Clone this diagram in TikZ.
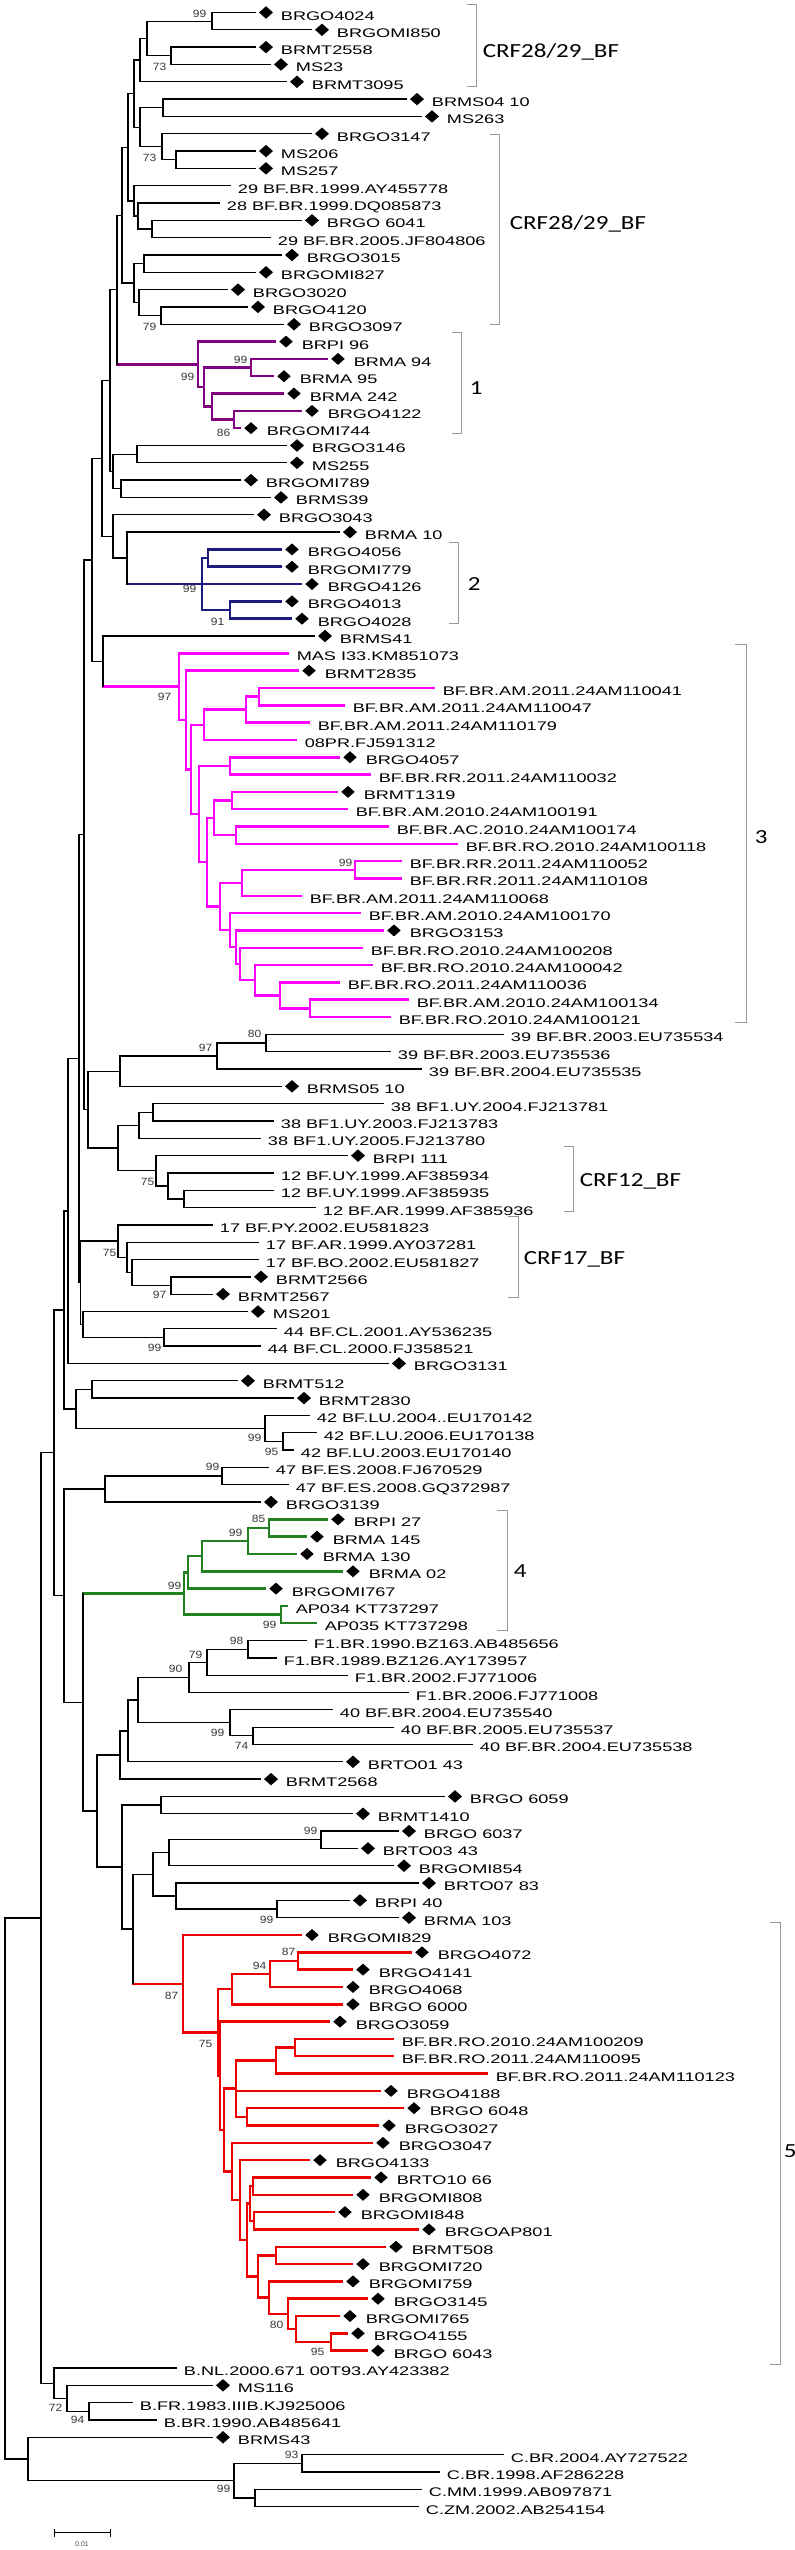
\documentclass[tikz,border=0pt]{standalone}
\usepackage{fontspec}
\setmainfont{Liberation Sans}
\newfontfamily\cladefont{Carlito}
\usepackage{xcolor}
\usepackage{tikz}
\usetikzlibrary{shapes.geometric}

\definecolor{cladeone}{RGB}{128,0,128}
\definecolor{cladetwo}{RGB}{28,28,128}
\definecolor{cladethree}{RGB}{255,0,255}
\definecolor{cladefour}{RGB}{34,130,34}
\definecolor{cladefive}{RGB}{238,0,0}

% tip with a diamond: name, parent x, tip x, row, label
\newcommand{\seqd}[5]{%
  \draw (#2,#4) -- (#3,#4);
  \node[gem] (#1) at ([xshift=11pt]#3,#4) {};
  \node[taxon] (#1t) at ([xshift=25pt,yshift=-7.5pt]#3,#4) {#5};}
% reference tip, no diamond
\newcommand{\seqr}[5]{%
  \draw (#2,#4) -- (#3,#4);
  \node[taxon] (#1) at ([xshift=7pt,yshift=-7.5pt]#3,#4) {#5};}
% inner node: parent x, node x, first row, last row
\newcommand{\knot}[4]{%
  \draw (#2,#3) -- (#2,#4) (#1,{(#3+#4)/2}) -- (#2,{(#3+#4)/2});}
\newcommand{\bs}[4]{\node[boot] (#1) at (#2,#3) {#4};}

\begin{document}
\begin{tikzpicture}[x=1pt, y=-17.32pt, line width=1.3pt, line cap=rect,
    gem/.style={diamond, fill=black, draw=none, inner sep=0pt, minimum width=14.5pt, minimum height=13pt},
    taxon/.style={anchor=base west, inner sep=0pt, text=black, font=\fontsize{12.5}{14}\selectfont, xscale=1.45},
    boot/.style={anchor=east, inner sep=0pt, text=black!78, font=\fontsize{10.5}{10.5}\selectfont, xscale=1.15},
    group/.style={draw=black!40, line width=1pt, line cap=butt},
    grouplabel/.style={anchor=west, inner sep=0pt, text=black, font=\cladefont\fontsize{20}{20}\selectfont, xscale=1.25},
    clade/.style={line width=2.5pt}]

\fill[white] (0,0.278) rectangle (795,147.51);
\useasboundingbox (0,0.278) rectangle (795,147.51);

% CRF28/29_BF
\seqd{l1}{212}{255}{1}{BRGO4024}
\seqd{l2}{212}{311}{2}{BRGOMI850}
\seqd{l3}{171}{255}{3}{BRMT2558}
\seqd{l4}{171}{270}{4}{MS23}
\seqd{l5}{140}{286}{5}{BRMT3095}
\seqd{l6}{163}{406}{6}{BRMS04 10}
\seqd{l7}{163}{421}{7}{MS263}
\seqd{l8}{162}{311}{8}{BRGO3147}
\seqd{l9}{176}{255}{9}{MS206}
\seqd{l10}{176}{255}{10}{MS257}
\seqr{l11}{134}{230}{11}{29 BF.BR.1999.AY455778}
\seqr{l12}{138}{219}{12}{28 BF.BR.1999.DQ085873}
\seqd{l13}{152}{301}{13}{BRGO 6041}
\seqr{l14}{152}{270}{14}{29 BF.BR.2005.JF804806}
\seqd{l15}{144}{281}{15}{BRGO3015}
\seqd{l16}{144}{255}{16}{BRGOMI827}
\seqd{l17}{139}{227}{17}{BRGO3020}
\seqd{l18}{161}{247}{18}{BRGO4120}
\seqd{l19}{161}{283}{19}{BRGO3097}
\knot{147}{212}{1}{2}
\knot{147}{171}{3}{4}
\knot{140}{147}{1.5}{3.5}
\knot{134}{140}{2.5}{5}
\knot{140}{163}{6}{7}
\knot{162}{176}{9}{10}
\knot{140}{162}{8}{9.5}
\knot{134}{140}{6.5}{8.75}
\knot{128}{134}{3.75}{7.625}
\knot{138}{152}{13}{14}
\knot{134}{138}{12}{13.5}
\knot{128}{134}{11}{12.75}
\knot{122}{128}{5.6875}{11.875}
\knot{134}{144}{15}{16}
\knot{139}{161}{18}{19}
\knot{134}{139}{17}{18.5}
\knot{122}{134}{15.5}{17.75}
\knot{117}{122}{8.78125}{16.625}

% group 1
\begin{scope}[cladeone, clade]
\seqd{l20}{198}{275}{20}{BRPI 96}
\seqd{l21}{251}{327}{21}{BRMA 94}
\seqd{l22}{251}{273}{22}{BRMA 95}
\seqd{l23}{212}{283}{23}{BRMA 242}
\seqd{l24}{234}{301}{24}{BRGO4122}
\seqd{l25}{234}{240}{25}{BRGOMI744}
\knot{204}{251}{21}{22}
\knot{212}{234}{24}{25}
\knot{204}{212}{23}{24.5}
\knot{198}{204}{21.5}{23.75}
\knot{117}{198}{20}{22.625}
\end{scope}
\knot{110}{117}{12.703}{21.3125}

\seqd{l26}{137}{286}{26}{BRGO3146}
\seqd{l27}{137}{286}{27}{MS255}
\seqd{l28}{121}{240}{28}{BRGOMI789}
\seqd{l29}{121}{270}{29}{BRMS39}
\seqd{l30}{113}{253}{30}{BRGO3043}
\seqd{l31}{127}{339}{31}{BRMA 10}
\knot{113}{137}{26}{27}
\knot{113}{121}{28}{29}
\knot{110}{113}{26.5}{28.5}
\knot{102}{110}{17.008}{27.5}

% group 2
\begin{scope}[cladetwo, clade]
\seqd{l32}{208}{281}{32}{BRGO4056}
\seqd{l33}{208}{281}{33}{BRGOMI779}
\seqd{l34}{202}{301}{34}{BRGO4126}
\seqd{l35}{230}{281}{35}{BRGO4013}
\seqd{l36}{230}{291}{36}{BRGO4028}
\knot{202}{208}{32}{33}
\knot{202}{230}{35}{36}
\knot{127}{202}{32.5}{35.5}
\end{scope}
\knot{113}{127}{31}{34}
\knot{102}{113}{30}{32.5}
\knot{92}{102}{22.254}{31.25}
\seqd{l37}{103}{314}{37}{BRMS41}

% group 3
\begin{scope}[cladethree, clade]
\seqr{l38}{179}{288}{38}{MAS I33.KM851073}
\seqd{l39}{186}{298}{39}{BRMT2835}
\seqr{l40}{259}{434}{40}{BF.BR.AM.2011.24AM110041}
\seqr{l41}{259}{344}{41}{BF.BR.AM.2011.24AM110047}
\seqr{l42}{246}{309}{42}{BF.BR.AM.2011.24AM110179}
\seqr{l43}{204}{296}{43}{08PR.FJ591312}
\seqd{l44}{230}{339}{44}{BRGO4057}
\seqr{l45}{230}{370}{45}{BF.BR.RR.2011.24AM110032}
\seqd{l46}{232}{337}{46}{BRMT1319}
\seqr{l47}{232}{347}{47}{BF.BR.AM.2010.24AM100191}
\seqr{l48}{236}{388}{48}{BF.BR.AC.2010.24AM100174}
\seqr{l49}{236}{457}{49}{BF.BR.RO.2010.24AM100118}
\seqr{l50}{355}{401}{50}{BF.BR.RR.2011.24AM110052}
\seqr{l51}{355}{401}{51}{BF.BR.RR.2011.24AM110108}
\seqr{l52}{242}{301}{52}{BF.BR.AM.2011.24AM110068}
\seqr{l53}{230}{360}{53}{BF.BR.AM.2010.24AM100170}
\seqd{l54}{236}{383}{54}{BRGO3153}
\seqr{l55}{240}{362}{55}{BF.BR.RO.2010.24AM100208}
\seqr{l56}{255}{372}{56}{BF.BR.RO.2010.24AM100042}
\seqr{l57}{280}{339}{57}{BF.BR.RO.2011.24AM110036}
\seqr{l58}{310}{408}{58}{BF.BR.AM.2010.24AM100134}
\seqr{l59}{310}{390}{59}{BF.BR.RO.2010.24AM100121}
\knot{246}{259}{40}{41}
\knot{204}{246}{40.5}{42}
\knot{191}{204}{41.25}{43}
\knot{199}{230}{44}{45}
\knot{214}{232}{46}{47}
\knot{214}{236}{48}{49}
\knot{207}{214}{46.5}{48.5}
\knot{242}{355}{50}{51}
\knot{220}{242}{50.5}{52}
\knot{280}{310}{58}{59}
\knot{255}{280}{57}{58.5}
\knot{240}{255}{56}{57.75}
\knot{236}{240}{55}{56.875}
\knot{230}{236}{54}{55.9375}
\knot{220}{230}{53}{54.969}
\knot{207}{220}{51.25}{53.984}
\knot{199}{207}{47.5}{52.617}
\knot{191}{199}{44.5}{50.059}
\knot{186}{191}{42.125}{47.279}
\knot{179}{186}{39}{44.702}
\knot{103}{179}{38}{41.851}
\end{scope}
\knot{92}{103}{37}{39.926}
\knot{84}{92}{26.752}{38.463}

\seqr{l60}{266}{503}{60}{39 BF.BR.2003.EU735534}
\seqr{l61}{266}{390}{61}{39 BF.BR.2003.EU735536}
\seqr{l62}{217}{421}{62}{39 BF.BR.2004.EU735535}
\seqd{l63}{120}{281}{63}{BRMS05 10}
\seqr{l64}{153}{383}{64}{38 BF1.UY.2004.FJ213781}
\seqr{l65}{153}{273}{65}{38 BF1.UY.2003.FJ213783}
\seqr{l66}{139}{260}{66}{38 BF1.UY.2005.FJ213780}
\seqd{l67}{156}{347}{67}{BRPI 111}
\seqr{l68}{168}{273}{68}{12 BF.UY.1999.AF385934}
\seqr{l69}{184}{273}{69}{12 BF.UY.1999.AF385935}
\seqr{l70}{184}{315}{70}{12 BF.AR.1999.AF385936}
\knot{217}{266}{60}{61}
\knot{120}{217}{60.5}{62}
\knot{88}{120}{61.25}{63}
\knot{139}{153}{64}{65}
\knot{118}{139}{64.5}{66}
\knot{168}{184}{69}{70}
\knot{156}{168}{68}{69.5}
\knot{118}{156}{67}{68.75}
\knot{88}{118}{65.25}{67.875}
\knot{84}{88}{62.125}{66.5625}
\knot{79}{84}{32.607}{64.344}

\seqr{l71}{118}{212}{71}{17 BF.PY.2002.EU581823}
\seqr{l72}{127}{258}{72}{17 BF.AR.1999.AY037281}
\seqr{l73}{132}{258}{73}{17 BF.BO.2002.EU581827}
\seqd{l74}{171}{250}{74}{BRMT2566}
\seqd{l75}{171}{212}{75}{BRMT2567}
\seqd{l76}{83}{247}{76}{MS201}
\seqr{l77}{164}{276}{77}{44 BF.CL.2001.AY536235}
\seqr{l78}{164}{260}{78}{44 BF.CL.2000.FJ358521}
\seqd{l79}{68}{388}{79}{BRGO3131}
\knot{132}{171}{74}{75}
\knot{127}{132}{73}{74.5}
\knot{118}{127}{72}{73.75}
\knot{80.5}{118}{71}{72.875}
\knot{83}{164}{77}{78}
\knot{80.5}{83}{76}{77.5}
\knot{79}{80.5}{71.9375}{76.75}
\knot{68}{79}{48.475}{74.344}
\knot{64}{68}{61.41}{79}

\seqd{l80}{92}{237}{80}{BRMT512}
\seqd{l81}{92}{293}{81}{BRMT2830}
\seqr{l82}{265}{309}{82}{42 BF.LU.2004..EU170142}
\seqr{l83}{283}{316}{83}{42 BF.LU.2006.EU170138}
\seqr{l84}{283}{293}{84}{42 BF.LU.2003.EU170140}
\knot{76}{92}{80}{81}
\knot{265}{283}{83}{84}
\knot{76}{265}{82}{83.5}
\knot{64}{76}{80.5}{82.75}
\knot{54}{64}{70.205}{81.625}

\seqr{l85}{222}{268}{85}{47 BF.ES.2008.FJ670529}
\seqr{l86}{222}{288}{86}{47 BF.ES.2008.GQ372987}
\seqd{l87}{105}{260}{87}{BRGO3139}
\knot{105}{222}{85}{86}
\knot{64}{105}{85.5}{87}

% group 4
\begin{scope}[cladefour, clade]
\seqd{l88}{269}{327}{88}{BRPI 27}
\seqd{l89}{269}{306}{89}{BRMA 145}
\seqd{l90}{248}{296}{90}{BRMA 130}
\seqd{l91}{202}{342}{91}{BRMA 02}
\seqd{l92}{188}{265}{92}{BRGOMI767}
\seqr{l93}{281}{287}{93}{AP034 KT737297}
\seqr{l94}{281}{316}{94}{AP035 KT737298}
\knot{248}{269}{88}{89}
\knot{202}{248}{88.5}{90}
\knot{188}{202}{89.25}{91}
\knot{184}{188}{90.125}{92}
\knot{184}{281}{93}{94}
\knot{83}{184}{91.0625}{93.5}
\end{scope}

\seqr{l95}{248}{306}{95}{F1.BR.1990.BZ163.AB485656}
\seqr{l96}{248}{276}{96}{F1.BR.1989.BZ126.AY173957}
\seqr{l97}{207}{347}{97}{F1.BR.2002.FJ771006}
\seqr{l98}{189}{408}{98}{F1.BR.2006.FJ771008}
\seqr{l99}{230}{332}{99}{40 BF.BR.2004.EU735540}
\seqr{l100}{253}{393}{100}{40 BF.BR.2005.EU735537}
\seqr{l101}{253}{472}{101}{40 BF.BR.2004.EU735538}
\seqd{l102}{128}{342}{102}{BRTO01 43}
\seqd{l103}{120}{260}{103}{BRMT2568}
\knot{207}{248}{95}{96}
\knot{189}{207}{95.5}{97}
\knot{138}{189}{96.25}{98}
\knot{230}{253}{100}{101}
\knot{138}{230}{99}{100.5}
\knot{128}{138}{97.125}{99.75}
\knot{120}{128}{98.4375}{102}
\knot{97}{120}{100.219}{103}

\seqd{l104}{161}{444}{104}{BRGO 6059}
\seqd{l105}{161}{352}{105}{BRMT1410}
\seqd{l106}{321}{398}{106}{BRGO 6037}
\seqd{l107}{321}{357}{107}{BRTO03 43}
\seqd{l108}{169}{393}{108}{BRGOMI854}
\seqd{l109}{176}{418}{109}{BRTO07 83}
\seqd{l110}{277}{349}{110}{BRPI 40}
\seqd{l111}{277}{398}{111}{BRMA 103}
\knot{122}{161}{104}{105}
\knot{169}{321}{106}{107}
\knot{153}{169}{106.5}{108}
\knot{176}{277}{110}{111}
\knot{153}{176}{109}{110.5}
\knot{133}{153}{107.25}{109.75}

% group 5
\begin{scope}[cladefive, clade]
\seqd{l112}{183}{301}{112}{BRGOMI829}
\seqd{l113}{298}{411}{113}{BRGO4072}
\seqd{l114}{298}{352}{114}{BRGO4141}
\seqd{l115}{270}{342}{115}{BRGO4068}
\seqd{l116}{232}{342}{116}{BRGO 6000}
\seqd{l117}{220}{329}{117}{BRGO3059}
\seqr{l118}{295}{393}{118}{BF.BR.RO.2010.24AM100209}
\seqr{l119}{295}{393}{119}{BF.BR.RO.2011.24AM110095}
\seqr{l120}{276}{487}{120}{BF.BR.RO.2011.24AM110123}
\seqd{l121}{236}{380}{121}{BRGO4188}
\seqd{l122}{247}{403}{122}{BRGO 6048}
\seqd{l123}{247}{378}{123}{BRGO3027}
\seqd{l124}{232}{372}{124}{BRGO3047}
\seqd{l125}{240}{309}{125}{BRGO4133}
\seqd{l126}{253}{370}{126}{BRTO10 66}
\seqd{l127}{253}{352}{127}{BRGOMI808}
\seqd{l128}{254}{334}{128}{BRGOMI848}
\seqd{l129}{254}{418}{129}{BRGOAP801}
\seqd{l130}{276}{385}{130}{BRMT508}
\seqd{l131}{276}{352}{131}{BRGOMI720}
\seqd{l132}{269}{342}{132}{BRGOMI759}
\seqd{l133}{288}{367}{133}{BRGO3145}
\seqd{l134}{296}{339}{134}{BRGOMI765}
\seqd{l135}{331}{347}{135}{BRGO4155}
\seqd{l136}{331}{367}{136}{BRGO 6043}
\knot{270}{298}{113}{114}
\knot{232}{270}{113.5}{115}
\knot{218}{232}{114.25}{116}
\knot{276}{295}{118}{119}
\knot{236}{276}{118.5}{120}
\knot{236}{247}{122}{123}
\knot{224}{236}{119.25}{122.5}
\knot{250}{253}{126}{127}
\knot{250}{254}{128}{129}
\knot{247}{250}{126.5}{128.5}
\knot{258}{276}{130}{131}
\knot{296}{331}{135}{136}
\knot{288}{296}{134}{135.5}
\knot{269}{288}{133}{134.75}
\knot{258}{269}{132}{133.875}
\knot{247}{258}{130.5}{132.9375}
\knot{240}{247}{127.5}{131.719}
\knot{232}{240}{125}{129.609}
\knot{224}{232}{124}{127.305}
\knot{220}{224}{120.875}{125.652}
\knot{218}{220}{117}{123.264}
\knot{183}{218}{115.125}{120.132}
\knot{133}{183}{112}{117.629}
\end{scope}
\knot{122}{133}{108.5}{114.814}
\knot{97}{122}{104.5}{111.657}
\knot{83}{97}{101.609}{108.079}
\knot{64}{83}{92.281}{104.844}
\knot{54}{64}{86.25}{98.563}
\knot{41}{54}{75.915}{92.406}

% subtype B and C
\seqr{l137}{54}{176}{137}{B.NL.2000.671 00T93.AY423382}
\seqd{l138}{67}{212}{138}{MS116}
\seqr{l139}{89}{132}{139}{B.FR.1983.IIIB.KJ925006}
\seqr{l140}{89}{156}{140}{B.BR.1990.AB485641}
\knot{67}{89}{139}{140}
\knot{54}{67}{138}{139.5}
\knot{41}{54}{137}{138.75}
\knot{5}{41}{84.16}{137.875}
\seqd{l141}{28}{212}{141}{BRMS43}
\seqr{l142}{302}{503}{142}{C.BR.2004.AY727522}
\seqr{l143}{302}{439}{143}{C.BR.1998.AF286228}
\seqr{l144}{255}{421}{144}{C.MM.1999.AB097871}
\seqr{l145}{255}{418}{145}{C.ZM.2002.AB254154}
\knot{234}{302}{142}{143}
\knot{234}{255}{144}{145}
\knot{28}{234}{142.5}{144.5}
\knot{5}{28}{141}{143.5}
\draw (5,111.02) -- (5,142.25);

% bootstrap values
\bs{b1}{207}{1.1}{99}
\bs{b2}{167}{4.13}{73}
\bs{b3}{157}{9.42}{73}
\bs{b4}{157}{19.18}{79}
\bs{b5}{248}{21.06}{99}
\bs{b6}{195}{22.03}{99}
\bs{b7}{231}{25.3}{86}
\bs{b8}{197}{34.3}{99}
\bs{b9}{225}{36.17}{91}
\bs{b10}{172}{40.5}{97}
\bs{b11}{353}{50.09}{99}
\bs{b12}{262}{60.0}{80}
\bs{b13}{213}{60.8}{97}
\bs{b14}{155}{68.5}{75}
\bs{b15}{117}{72.6}{75}
\bs{b16}{167}{75.05}{97}
\bs{b17}{162}{78.1}{99}
\bs{b18}{262}{83.3}{99}
\bs{b19}{279}{84.1}{95}
\bs{b20}{220}{85.0}{99}
\bs{b21}{266}{88.0}{85}
\bs{b22}{243}{88.8}{99}
\bs{b23}{182}{91.85}{99}
\bs{b24}{277}{94.1}{99}
\bs{b25}{244}{95.0}{98}
\bs{b26}{203}{95.8}{79}
\bs{b27}{183}{96.65}{90}
\bs{b28}{225}{100.35}{99}
\bs{b29}{249}{101.1}{74}
\bs{b30}{318}{106.0}{99}
\bs{b31}{274}{111.1}{99}
\bs{b32}{179}{115.5}{87}
\bs{b33}{296}{112.96}{87}
\bs{b34}{267}{113.8}{94}
\bs{b35}{213}{118.3}{75}
\bs{b36}{284}{134.5}{80}
\bs{b37}{325}{136.05}{95}
\bs{b38}{63}{139.3}{72}
\bs{b39}{85}{140.0}{94}
\bs{b40}{299}{142.0}{93}
\bs{b41}{231}{144.0}{99}

% groups
\draw[group] (467,0.55) -- (477,0.55) -- (477,5.25) -- (467,5.25);
\node[grouplabel] (crfa) at (482,3.25) {CRF28/29\_BF};
\draw[group] (490,8.07) -- (500,8.07) -- (500,19.0) -- (490,19.0);
\node[grouplabel] (crfb) at (509,13.2) {CRF28/29\_BF};
\draw[group] (452,19.5) -- (462,19.5) -- (462,25.3) -- (452,25.3);
\node[grouplabel] (gone) at (469,22.7) {1};
\draw[group] (449,31.6) -- (459,31.6) -- (459,36.3) -- (449,36.3);
\node[grouplabel] (gtwo) at (467,34.0) {2};
\draw[group] (735,37.5) -- (747,37.5) -- (747,59.3) -- (735,59.3);
\node[grouplabel] (gthree) at (754,48.6) {3};
\draw[group] (564,66.5) -- (574,66.5) -- (574,70.25) -- (564,70.25);
\node[grouplabel] (crfc) at (579,68.5) {CRF12\_BF};
\draw[group] (508,70.5) -- (519,70.5) -- (519,75.2) -- (508,75.2);
\node[grouplabel] (crfd) at (523,73.0) {CRF17\_BF};
\draw[group] (497,87.5) -- (508,87.5) -- (508,94.4) -- (497,94.4);
\node[grouplabel] (gfour) at (513,91.0) {4};
\draw[group] (770,111.3) -- (781,111.3) -- (781,136.8) -- (770,136.8);
\node[grouplabel] (gfive) at (783,124.5) {5};

% scale
\coordinate (sa) at (54,146.5);
\coordinate (sb) at (111,146.5);
\draw[|-|, line width=1pt, line cap=butt] (sa) -- (sb);
\node[font=\fontsize{7}{7}\selectfont, text=black!70, inner sep=0pt] (scl) at (82,147.15) {0.01};
\end{tikzpicture}
\end{document}
